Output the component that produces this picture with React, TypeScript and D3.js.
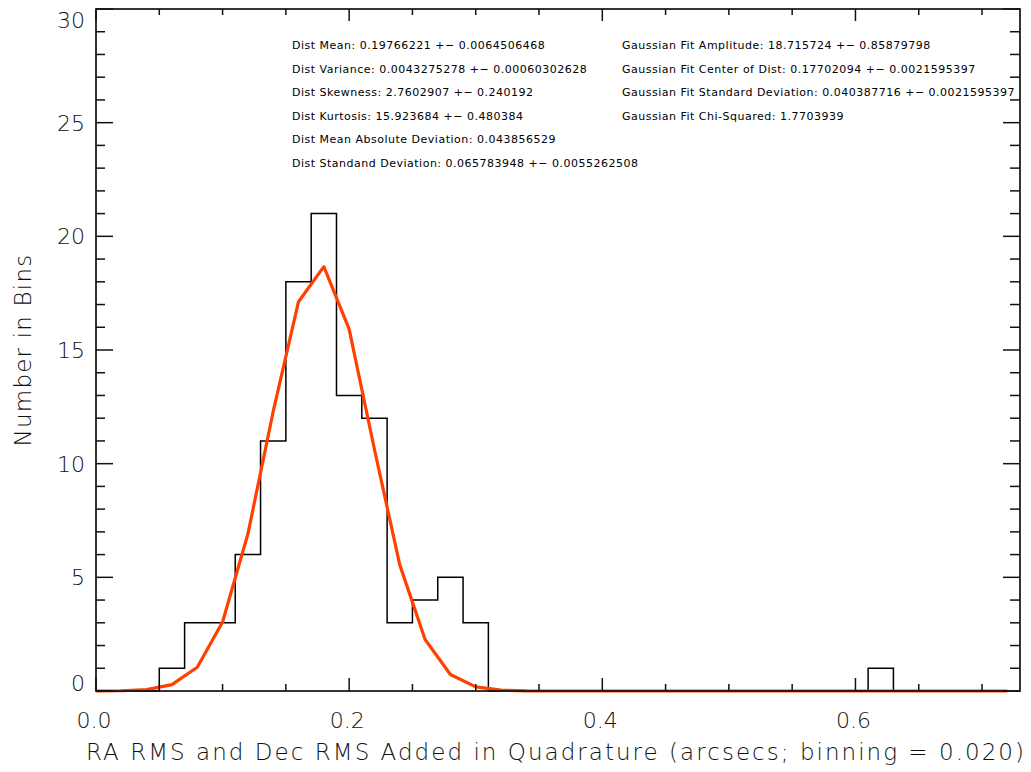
import React from "react";
import * as d3 from "d3";

const binCenters = [
  0.0, 0.02, 0.04, 0.06, 0.08, 0.1, 0.12, 0.14, 0.16, 0.18, 0.2, 0.22, 0.24,
  0.26, 0.28, 0.3, 0.32, 0.34, 0.36, 0.38, 0.4, 0.42, 0.44, 0.46, 0.48, 0.5,
  0.52, 0.54, 0.56, 0.58, 0.6, 0.62, 0.64, 0.66, 0.68, 0.7, 0.72,
];
const counts = [
  0, 0, 0, 1, 3, 3, 6, 11, 18, 21, 13, 12, 3, 4, 5, 3, 0, 0, 0, 0, 0, 0, 0, 0,
  0, 0, 0, 0, 0, 0, 0, 1, 0, 0, 0, 0, 0,
];
const fitValues = [
  0.001, 0.01, 0.059, 0.281, 1.045, 3.038, 6.908, 12.296, 17.125, 18.665,
  15.919, 10.625, 5.548, 2.267, 0.725, 0.182, 0.036, 0.005, 0, 0, 0, 0, 0, 0,
  0, 0, 0, 0, 0, 0, 0, 0, 0, 0, 0, 0, 0,
];
const xMajorTicks = [0, 0.2, 0.4, 0.6];
const xTickLabels = ["0.0", "0.2", "0.4", "0.6"];
const yMajorTicks = [0, 5, 10, 15, 20, 25, 30];
const yTickLabels = ["0", "5", "10", "15", "20", "25", "30"];
const statsLeft = [
  "Dist Mean: 0.19766221 +\u2212 0.0064506468",
  "Dist Variance: 0.0043275278 +\u2212 0.00060302628",
  "Dist Skewness: 2.7602907 +\u2212 0.240192",
  "Dist Kurtosis: 15.923684 +\u2212 0.480384",
  "Dist Mean Absolute Deviation: 0.043856529",
  "Dist Standand Deviation: 0.065783948 +\u2212 0.0055262508",
];
const statsRight = [
  "Gaussian Fit Amplitude: 18.715724 +\u2212 0.85879798",
  "Gaussian Fit Center of Dist: 0.17702094 +\u2212 0.0021595397",
  "Gaussian Fit Standard Deviation: 0.040387716 +\u2212 0.0021595397",
  "Gaussian Fit Chi-Squared: 1.7703939",
];
const xTitle = "RA RMS and Dec RMS Added in Quadrature (arcsecs; binning = 0.020)";
const yTitle = "Number in Bins";

const W = 1031;
const H = 772;
const L = 96;
const R = 1020;
const T = 9;
const B = 691;

export default function App() {
  const x = d3.scaleLinear().domain([0, 0.73]).range([L, R]);
  const y = d3.scaleLinear().domain([0, 30]).range([B, T]);

  const idx = binCenters.map((_, i) => i);
  const histPath = d3
    .line<number>()
    .x((i) => x(binCenters[i]))
    .y((i) => y(counts[i]))
    .curve(d3.curveStep)(idx) as string;
  const fitPath = d3
    .line<number>()
    .x((i) => x(binCenters[i]))
    .y((i) => y(fitValues[i]))(idx) as string;

  const xMinor = d3.range(0, 0.7301, 0.05).map((v) => +v.toFixed(2));
  const yMinor = d3.range(0, 31, 1);

  const font = "'DejaVu Sans', sans-serif";
  const ink = "#111";

  return (
    <div style={{ position: "absolute", left: 0, top: 0 }}>
      <svg width={W} height={H} style={{ display: "block" }}>
        <rect x={0} y={0} width={W} height={H} fill="#fff" />
        <path d={histPath} fill="none" stroke="#000" strokeWidth={1.5} />
        <path
          d={fitPath}
          fill="none"
          stroke="#ff4000"
          strokeWidth={3.2}
          strokeLinejoin="round"
        />
        <rect
          x={L}
          y={T}
          width={R - L}
          height={B - T}
          fill="none"
          stroke={ink}
          strokeWidth={1.7}
        />
        {xMinor.map((v) => {
          const major = xMajorTicks.some((m) => Math.abs(m - v) < 1e-6);
          return (
            <g key={"xt" + v}>
              <line
                x1={x(v)}
                x2={x(v)}
                y1={B}
                y2={B - (major ? 13 : 7)}
                stroke={ink}
                strokeWidth={1.5}
              />
              <line
                x1={x(v)}
                x2={x(v)}
                y1={T}
                y2={T + (major ? 12 : 6)}
                stroke={ink}
                strokeWidth={1.5}
              />
            </g>
          );
        })}
        {yMinor.map((v) => {
          const major = v % 5 === 0;
          return (
            <g key={"yt" + v}>
              <line
                x1={L}
                x2={L + (major ? 17 : 9)}
                y1={y(v)}
                y2={y(v)}
                stroke={ink}
                strokeWidth={1.5}
              />
              <line
                x1={R}
                x2={R - (major ? 17 : 10)}
                y1={y(v)}
                y2={y(v)}
                stroke={ink}
                strokeWidth={1.5}
              />
            </g>
          );
        })}
        {xMajorTicks.map((v, i) => (
          <text
            key={"xl" + v}
            x={x(v) - 2}
            y={728}
            textAnchor="middle"
            fontFamily={font}
            fontWeight={200}
            fontSize={22}
            fill={ink}
          >
            {xTickLabels[i]}
          </text>
        ))}
        {yMajorTicks.map((v, i) => {
          let cy = y(v) + 8;
          if (i === 0) cy = B;
          if (i === yMajorTicks.length - 1) cy = T + 19;
          return (
            <text
              key={"yl" + v}
              x={85}
              y={cy}
              textAnchor="end"
              fontFamily={font}
              fontWeight={200}
              fontSize={22}
              fill={ink}
            >
              {yTickLabels[i]}
            </text>
          );
        })}
        <text
          x={555}
          y={760}
          textAnchor="middle"
          fontFamily={font}
          fontWeight={200}
          fontSize={23}
          textLength={938}
          lengthAdjust="spacing"
          fill={ink}
        >
          {xTitle}
        </text>
        <text
          transform="translate(31,350) rotate(-90)"
          textAnchor="middle"
          fontFamily={font}
          fontWeight={200}
          fontSize={23}
          letterSpacing={1.2}
          fill={ink}
        >
          {yTitle}
        </text>
        {statsLeft.map((s, i) => (
          <text
            key={"sl" + i}
            x={292}
            y={49 + i * 23.6}
            fontFamily={font}
            fontSize={11}
            letterSpacing={0.5}
            fill="#000"
          >
            {s}
          </text>
        ))}
        {statsRight.map((s, i) => (
          <text
            key={"sr" + i}
            x={622}
            y={49 + i * 23.6}
            fontFamily={font}
            fontSize={11}
            letterSpacing={0.5}
            fill="#000"
          >
            {s}
          </text>
        ))}
      </svg>
    </div>
  );
}
